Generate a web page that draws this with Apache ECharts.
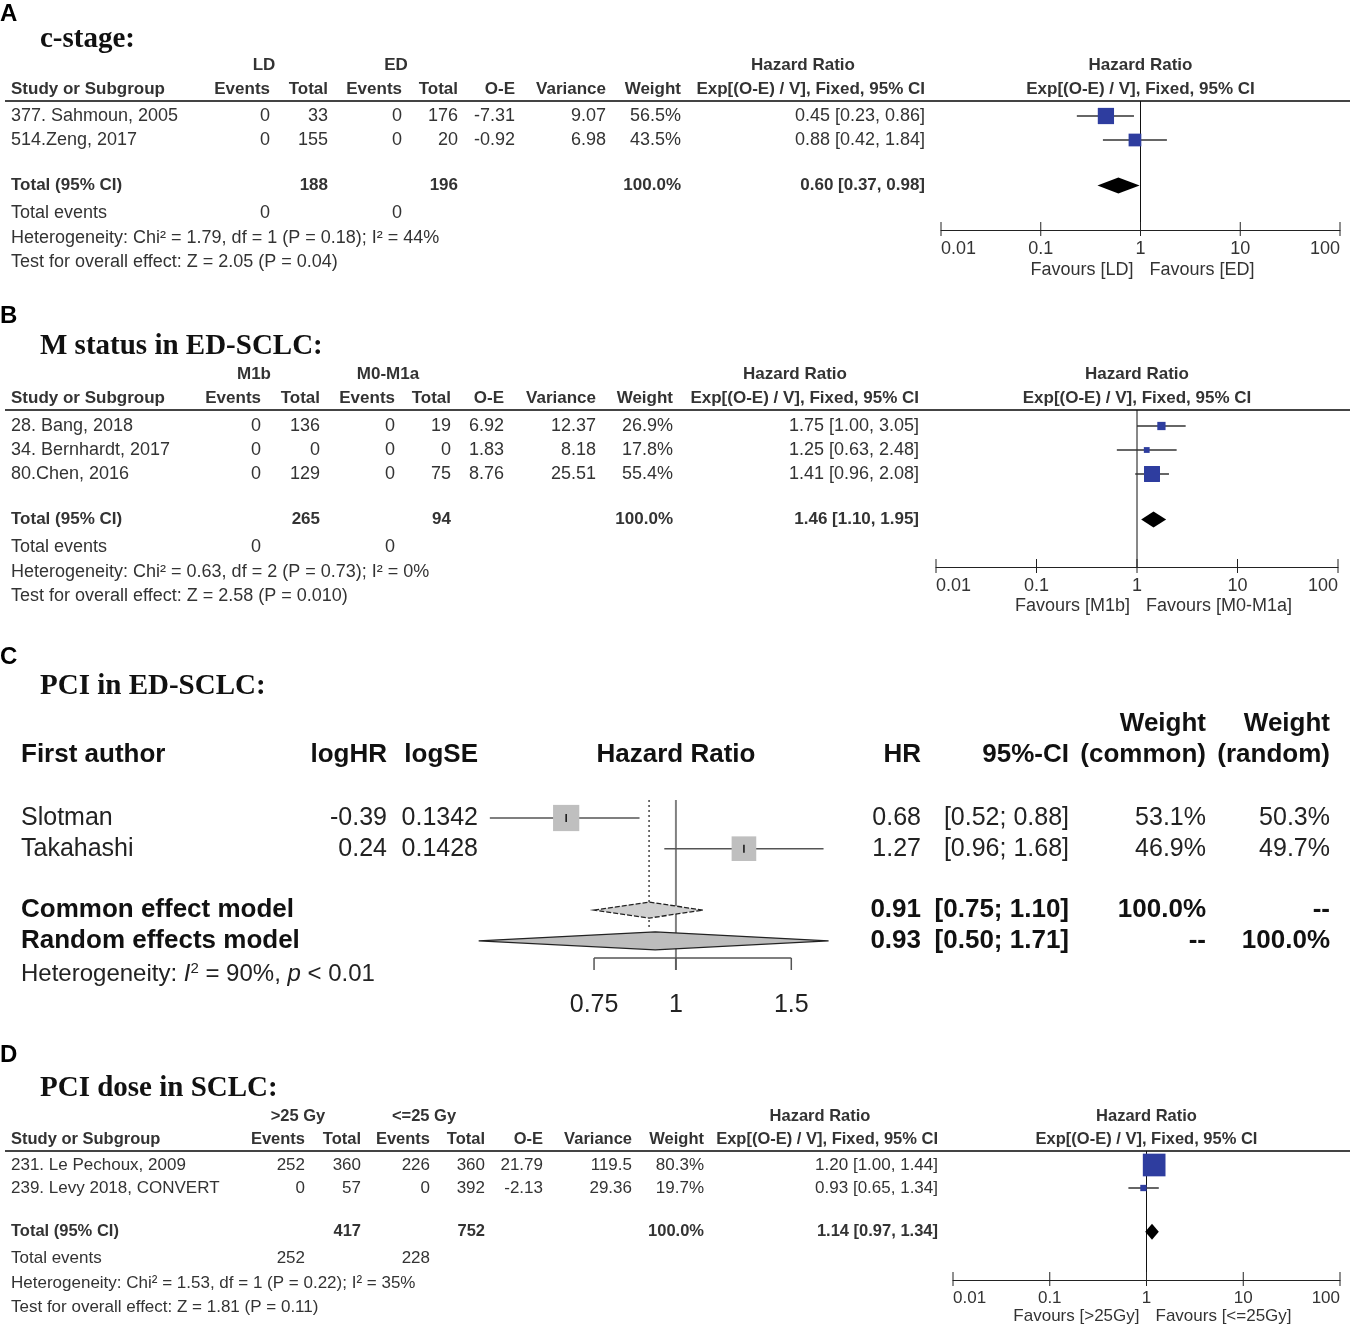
<!DOCTYPE html>
<html>
<head>
<meta charset="utf-8">
<script src="https://cdn.jsdelivr.net/npm/echarts@6/dist/echarts.min.js"></script>
<style>
  html, body { margin: 0; padding: 0; background: #fff; }
  #main { width: 1353px; height: 1331px; }
</style>
</head>
<body>
<div id="main"></div>
<script>
var SANS = "'Liberation Sans', Arial, Helvetica, sans-serif";
var SERIF = "'Liberation Serif', 'Times New Roman', serif";
var TXT = '#333';

// ---- A: c-stage ----
var aGroups = ['LD', 'ED'];
var aStudies = ['377. Sahmoun, 2005', '514.Zeng, 2017'];
var aEvents1 = ['0', '0'];
var aTotal1 = ['33', '155'];
var aEvents2 = ['0', '0'];
var aTotal2 = ['176', '20'];
var aOE = ['-7.31', '-0.92'];
var aVariance = ['9.07', '6.98'];
var aWeight = [56.5, 43.5];
var aHR = [0.45, 0.88];
var aLow = [0.23, 0.42];
var aHigh = [0.86, 1.84];
var aSums = ['188', '196'];
var aPooled = [0.60, 0.37, 0.98];
var aTotalEvents = ['0', '0'];
var aHet = 'Heterogeneity: Chi² = 1.79, df = 1 (P = 0.18); I² = 44%';
var aTest = 'Test for overall effect: Z = 2.05 (P = 0.04)';
var aFavours = ['Favours [LD]', 'Favours [ED]'];

// ---- B: M status ----
var bGroups = ['M1b', 'M0-M1a'];
var bStudies = ['28. Bang, 2018', '34. Bernhardt, 2017', '80.Chen, 2016'];
var bEvents1 = ['0', '0', '0'];
var bTotal1 = ['136', '0', '129'];
var bEvents2 = ['0', '0', '0'];
var bTotal2 = ['19', '0', '75'];
var bOE = ['6.92', '1.83', '8.76'];
var bVariance = ['12.37', '8.18', '25.51'];
var bWeight = [26.9, 17.8, 55.4];
var bHR = [1.75, 1.25, 1.41];
var bLow = [1.00, 0.63, 0.96];
var bHigh = [3.05, 2.48, 2.08];
var bSums = ['265', '94'];
var bPooled = [1.46, 1.10, 1.95];
var bTotalEvents = ['0', '0'];
var bHet = 'Heterogeneity: Chi² = 0.63, df = 2 (P = 0.73); I² = 0%';
var bTest = 'Test for overall effect: Z = 2.58 (P = 0.010)';
var bFavours = ['Favours [M1b]', 'Favours [M0-M1a]'];

// ---- C: PCI in ED-SCLC ----
var cStudies = ['Slotman', 'Takahashi'];
var cLogHR = ['-0.39', '0.24'];
var cLogSE = ['0.1342', '0.1428'];
var cHR = [0.68, 1.27];
var cLow = [0.52, 0.96];
var cHigh = [0.88, 1.68];
var cWCommon = [53.1, 46.9];
var cWRandom = [50.3, 49.7];
var cModels = ['Common effect model', 'Random effects model'];
var cModelHR = [0.91, 0.93];
var cModelLow = [0.75, 0.50];
var cModelHigh = [1.10, 1.71];
var cModelWCommon = ['100.0%', '--'];
var cModelWRandom = ['--', '100.0%'];
var cTicks = [0.75, 1, 1.5];

// ---- D: PCI dose ----
var dGroups = ['>25 Gy', '<=25 Gy'];
var dStudies = ['231. Le Pechoux, 2009', '239. Levy 2018, CONVERT'];
var dEvents1 = ['252', '0'];
var dTotal1 = ['360', '57'];
var dEvents2 = ['226', '0'];
var dTotal2 = ['360', '392'];
var dOE = ['21.79', '-2.13'];
var dVariance = ['119.5', '29.36'];
var dWeight = [80.3, 19.7];
var dHR = [1.20, 0.93];
var dLow = [1.00, 0.65];
var dHigh = [1.44, 1.34];
var dSums = ['417', '752'];
var dPooled = [1.14, 0.97, 1.34];
var dTotalEvents = ['252', '228'];
var dHet = 'Heterogeneity: Chi² = 1.53, df = 1 (P = 0.22); I² = 35%';
var dTest = 'Test for overall effect: Z = 1.81 (P = 0.11)';
var dFavours = ['Favours [>25Gy]', 'Favours [<=25Gy]'];

var logTicks = [0.01, 0.1, 1, 10, 100];

// page layout of the three RevMan panels
var layA = { letter: 'A', letterY: 14, title: 'c-stage:', titleY: 40, head1Y: 65, head2Y: 89, lineY: 101,
  rowTop: 116, rowH: 24, cols: [270, 328, 402, 458, 515, 606, 681, 925], groupX: [264, 396], hrHeadX: 803,
  plotL: 941, plotR: 1340, axisY: 230, favY: 270, fs: 18, fb: 17 };
var layB = { letter: 'B', letterY: 316, title: 'M status in ED-SCLC:', titleY: 347, head1Y: 374, head2Y: 398, lineY: 410,
  rowTop: 426, rowH: 24, cols: [261, 320, 395, 451, 504, 596, 673, 919], groupX: [254, 388], hrHeadX: 795,
  plotL: 936, plotR: 1338, axisY: 567, favY: 606, fs: 18, fb: 17 };
var layD = { letter: 'D', letterY: 1055, title: 'PCI dose in SCLC:', titleY: 1089, head1Y: 1116, head2Y: 1139, lineY: 1151,
  rowTop: 1165, rowH: 23, cols: [305, 361, 430, 485, 543, 632, 704, 938], groupX: [298, 424], hrHeadX: 820,
  plotL: 953, plotR: 1340, axisY: 1280, favY: 1316, fs: 17, fb: 16.5 };

var g = [];
function T(x, y, s, o) {
  o = o || {};
  var a = o.a || 'left';
  g.push({ type: 'text', x: x, y: y, silent: true, style: {
    text: s, font: (o.i ? 'italic ' : '') + (o.b ? 'bold ' : '') + (o.s || 16) + 'px ' + (o.f || SANS),
    fill: o.c || TXT, align: a, textAlign: a, verticalAlign: 'middle', textVerticalAlign: 'middle' } });
}
function ci(h, l, u, sep) {
  return h.toFixed(2) + ' [' + l.toFixed(2) + sep + u.toFixed(2) + ']';
}

var grids = [], xAxes = [], yAxes = [], series = [];

function studyItem(params, api) {
  var row = api.value(3), s = api.value(4), kind = api.value(5);
  var pc = api.coord([api.value(0), row]);
  var pl = api.coord([api.value(1), row]);
  var ph = api.coord([api.value(2), row]);
  if (kind === 1) {
    var h = 8;
    return { type: 'polygon', shape: { points: [[pl[0], pc[1]], [pc[0], pc[1] - h], [ph[0], pc[1]], [pc[0], pc[1] + h]] },
      style: { fill: '#000' } };
  }
  return { type: 'group', children: [
    { type: 'line', shape: { x1: pl[0], y1: pc[1], x2: ph[0], y2: pc[1] }, style: { stroke: '#333', lineWidth: 1.5 } },
    { type: 'rect', shape: { x: pc[0] - s / 2, y: pc[1] - s / 2, width: s, height: s }, style: { fill: '#2e3d9f' } }
  ] };
}
function tickItem(params, api) {
  var cs = params.coordSys;
  var x = api.coord([api.value(0), 0])[0];
  var yb = cs.y + cs.height;
  return { type: 'line', shape: { x1: x, y1: yb - 8, x2: x, y2: yb + 6 }, style: { stroke: '#222', lineWidth: 1 } };
}
function refItem(params, api) {
  var cs = params.coordSys;
  var x = api.coord([api.value(0), 0])[0];
  return { type: 'line', shape: { x1: x, y1: cs.y, x2: x, y2: cs.y + cs.height }, style: { stroke: '#111', lineWidth: 1 } };
}

function addRevman(L, d) {
  var R = { s: L.fs }, B = { s: L.fb, b: true };
  function o(base, a) { return { s: base.s, b: base.b, a: a }; }
  // text table
  T(0, L.letterY, L.letter, { b: true, s: 24, c: '#000' });
  T(40, L.titleY, L.title, { b: true, s: 29, f: SERIF, c: '#111' });
  var c = L.cols, mid = (L.plotL + L.plotR) / 2;
  T(L.groupX[0], L.head1Y, d.groups[0], o(B, 'center'));
  T(L.groupX[1], L.head1Y, d.groups[1], o(B, 'center'));
  T(L.hrHeadX, L.head1Y, 'Hazard Ratio', o(B, 'center'));
  T(mid, L.head1Y, 'Hazard Ratio', o(B, 'center'));
  T(mid, L.head2Y, 'Exp[(O-E) / V], Fixed, 95% CI', o(B, 'center'));
  T(11, L.head2Y, 'Study or Subgroup', B);
  ['Events', 'Total', 'Events', 'Total', 'O-E', 'Variance', 'Weight', 'Exp[(O-E) / V], Fixed, 95% CI'].forEach(function (h, k) {
    T(c[k], L.head2Y, h, o(B, 'right'));
  });
  g.push({ type: 'line', silent: true, shape: { x1: 5, y1: L.lineY, x2: 1350, y2: L.lineY }, style: { stroke: '#444', lineWidth: 2 } });
  var n = d.studies.length;
  d.studies.forEach(function (s, i) {
    var y = L.rowTop + i * L.rowH;
    T(11, y, s, R);
    [d.ev1[i], d.tot1[i], d.ev2[i], d.tot2[i], d.oe[i], d.v[i], d.w[i].toFixed(1) + '%',
      ci(d.hr[i], d.lo[i], d.hi[i], ', ')].forEach(function (v, k) { T(c[k], y, v, o(R, 'right')); });
  });
  var ty = L.rowTop + (n + 0.9) * L.rowH;
  T(11, ty, 'Total (95% CI)', B);
  T(c[1], ty, d.sums[0], o(B, 'right'));
  T(c[3], ty, d.sums[1], o(B, 'right'));
  T(c[6], ty, '100.0%', o(B, 'right'));
  T(c[7], ty, ci(d.pooled[0], d.pooled[1], d.pooled[2], ', '), o(B, 'right'));
  T(11, ty + 27, 'Total events', R);
  T(c[0], ty + 27, d.te[0], o(R, 'right'));
  T(c[2], ty + 27, d.te[1], o(R, 'right'));
  T(11, ty + 52, d.het, R);
  T(11, ty + 76, d.test, R);
  T(mid - 7, L.favY, d.fav[0], o(R, 'right'));
  T(mid + 9, L.favY, d.fav[1], R);

  // plot
  var gi = grids.length;
  grids.push({ left: L.plotL, top: L.lineY, width: L.plotR - L.plotL, height: L.axisY - L.lineY });
  xAxes.push({ gridIndex: gi, type: 'log', logBase: 10, min: 0.01, max: 100,
    axisLine: { show: true, onZero: false, lineStyle: { color: '#222', width: 1 } },
    axisTick: { show: false }, splitLine: { show: false },
    axisLabel: { color: TXT, fontSize: L.fs, fontFamily: SANS, margin: 10, alignMinLabel: 'left', alignMaxLabel: 'right',
      formatter: function (v) { return String(Number(v.toPrecision(2))); } } });
  yAxes.push({ gridIndex: gi, type: 'value', inverse: true, show: false,
    min: (L.lineY - L.rowTop) / L.rowH, max: (L.axisY - L.rowTop) / L.rowH });
  var data = d.hr.map(function (h, i) { return [h, d.lo[i], d.hi[i], i, 0.27 * d.w[i] + 1, 0]; });
  data.push([d.pooled[0], d.pooled[1], d.pooled[2], n + 0.9, 0, 1]);
  series.push({ type: 'custom', xAxisIndex: gi, yAxisIndex: gi, data: [[1]], renderItem: refItem, silent: true });
  series.push({ type: 'custom', xAxisIndex: gi, yAxisIndex: gi, data: logTicks.map(function (t) { return [t]; }), renderItem: tickItem, silent: true });
  series.push({ type: 'custom', xAxisIndex: gi, yAxisIndex: gi, data: data, renderItem: studyItem, silent: true });
}

addRevman(layA, { groups: aGroups, studies: aStudies, ev1: aEvents1, tot1: aTotal1, ev2: aEvents2, tot2: aTotal2,
  oe: aOE, v: aVariance, w: aWeight, hr: aHR, lo: aLow, hi: aHigh, sums: aSums, pooled: aPooled,
  te: aTotalEvents, het: aHet, test: aTest, fav: aFavours });
addRevman(layB, { groups: bGroups, studies: bStudies, ev1: bEvents1, tot1: bTotal1, ev2: bEvents2, tot2: bTotal2,
  oe: bOE, v: bVariance, w: bWeight, hr: bHR, lo: bLow, hi: bHigh, sums: bSums, pooled: bPooled,
  te: bTotalEvents, het: bHet, test: bTest, fav: bFavours });
addRevman(layD, { groups: dGroups, studies: dStudies, ev1: dEvents1, tot1: dTotal1, ev2: dEvents2, tot2: dTotal2,
  oe: dOE, v: dVariance, w: dWeight, hr: dHR, lo: dLow, hi: dHigh, sums: dSums, pooled: dPooled,
  te: dTotalEvents, het: dHet, test: dTest, fav: dFavours });

// ---- panel C (meta-style forest) ----
var cRowTop = 818, cRowH = 30.7;
var cGridTop = 800, cGridBottom = 970;
T(0, 657, 'C', { b: true, s: 24, c: '#000' });
T(40, 687, 'PCI in ED-SCLC:', { b: true, s: 29, f: SERIF, c: '#111' });
var CB = { b: true, s: 26, c: '#111' }, CR = { s: 25, c: '#222' };
function cc(o, a) { var r = {}; for (var k in o) r[k] = o[k]; r.a = a; return r; }
T(21, 755, 'First author', CB);
T(387, 755, 'logHR', cc(CB, 'right'));
T(478, 755, 'logSE', cc(CB, 'right'));
T(676, 755, 'Hazard Ratio', cc(CB, 'center'));
T(921, 755, 'HR', cc(CB, 'right'));
T(1069, 755, '95%-CI', cc(CB, 'right'));
T(1206, 724, 'Weight', cc(CB, 'right'));
T(1206, 755, '(common)', cc(CB, 'right'));
T(1330, 724, 'Weight', cc(CB, 'right'));
T(1330, 755, '(random)', cc(CB, 'right'));
cStudies.forEach(function (s, i) {
  var y = cRowTop + i * cRowH;
  T(21, y, s, CR);
  T(387, y, cLogHR[i], cc(CR, 'right'));
  T(478, y, cLogSE[i], cc(CR, 'right'));
  T(921, y, cHR[i].toFixed(2), cc(CR, 'right'));
  T(1069, y, '[' + cLow[i].toFixed(2) + '; ' + cHigh[i].toFixed(2) + ']', cc(CR, 'right'));
  T(1206, y, cWCommon[i].toFixed(1) + '%', cc(CR, 'right'));
  T(1330, y, cWRandom[i].toFixed(1) + '%', cc(CR, 'right'));
});
cModels.forEach(function (s, i) {
  var y = cRowTop + (3 + i) * cRowH;
  T(21, y, s, CB);
  T(921, y, cModelHR[i].toFixed(2), cc(CB, 'right'));
  T(1069, y, '[' + cModelLow[i].toFixed(2) + '; ' + cModelHigh[i].toFixed(2) + ']', cc(CB, 'right'));
  T(1206, y, cModelWCommon[i], cc(CB, 'right'));
  T(1330, y, cModelWRandom[i], cc(CB, 'right'));
});
g.push({ type: 'text', x: 21, y: cRowTop + 5.1 * cRowH, silent: true, style: {
  text: '{n|Heterogeneity: }{i|I}{s|2}{n| = 90%, }{i|p}{n| < 0.01}',
  verticalAlign: 'middle', textVerticalAlign: 'middle',
  rich: {
    n: { fontSize: 24, fontFamily: SANS, fill: '#222', color: '#222' },
    i: { fontSize: 24, fontFamily: SANS, fontStyle: 'italic', fill: '#222', color: '#222' },
    s: { fontSize: 15, fontFamily: SANS, fill: '#222', color: '#222', padding: [0, 0, 12, 0] }
  } } });

var cgi = grids.length;
grids.push({ left: 470, width: 370, top: cGridTop, height: cGridBottom - cGridTop });
xAxes.push({ gridIndex: cgi, type: 'log', logBase: 10, min: 0.485, max: 1.78, show: false });
yAxes.push({ gridIndex: cgi, type: 'value', inverse: true, show: false,
  min: (cGridTop - cRowTop) / cRowH, max: (cGridBottom - cRowTop) / cRowH });

// reference lines: solid at 1, dotted at common estimate
series.push({ type: 'custom', xAxisIndex: cgi, yAxisIndex: cgi, silent: true, z: 1,
  data: [[1, 0], [cModelHR[0], 1]],
  renderItem: function (params, api) {
    var cs = params.coordSys, x = api.coord([api.value(0), 0])[0];
    if (api.value(1) === 0) {
      return { type: 'line', shape: { x1: x, y1: cs.y, x2: x, y2: cs.y + cs.height }, style: { stroke: '#808080', lineWidth: 2 } };
    }
    return { type: 'line', shape: { x1: x, y1: cs.y, x2: x, y2: cs.y + cs.height - 40 },
      style: { stroke: '#444', lineWidth: 1.5, lineDash: [2, 3] } };
  } });
// studies
series.push({ type: 'custom', xAxisIndex: cgi, yAxisIndex: cgi, silent: true, z: 3,
  data: cHR.map(function (h, i) { return [h, cLow[i], cHigh[i], i, 3.6 * Math.sqrt(cWCommon[i])]; }),
  renderItem: function (params, api) {
    var row = api.value(3), s = api.value(4);
    var pc = api.coord([api.value(0), row]), pl = api.coord([api.value(1), row]), ph = api.coord([api.value(2), row]);
    return { type: 'group', children: [
      { type: 'line', shape: { x1: pl[0], y1: pc[1], x2: ph[0], y2: pc[1] }, style: { stroke: '#555', lineWidth: 1.5 } },
      { type: 'rect', shape: { x: pc[0] - s / 2, y: pc[1] - s / 2, width: s, height: s }, style: { fill: '#bfbfbf' } },
      { type: 'line', shape: { x1: pc[0], y1: pc[1] - 4, x2: pc[0], y2: pc[1] + 4 }, style: { stroke: '#111', lineWidth: 1.5 } }
    ] };
  } });
// pooled diamonds
series.push({ type: 'custom', xAxisIndex: cgi, yAxisIndex: cgi, silent: true, z: 4,
  data: cModelHR.map(function (h, i) { return [h, cModelLow[i], cModelHigh[i], 3 + i, i]; }),
  renderItem: function (params, api) {
    var row = api.value(3), k = api.value(4), h = k === 0 ? 8 : 9;
    var pc = api.coord([api.value(0), row]), pl = api.coord([api.value(1), row]), ph = api.coord([api.value(2), row]);
    return { type: 'polygon', shape: { points: [[pl[0], pc[1]], [pc[0], pc[1] - h], [ph[0], pc[1]], [pc[0], pc[1] + h]] },
      style: { fill: k === 0 ? '#cfcfcf' : '#bdbdbd', stroke: '#222', lineWidth: 1.3, lineDash: k === 0 ? [5, 2] : null } };
  } });
// axis: baseline, ticks and labels
series.push({ type: 'custom', xAxisIndex: cgi, yAxisIndex: cgi, silent: true, z: 2,
  data: [[cTicks[0], cTicks[cTicks.length - 1]]],
  renderItem: function (params, api) {
    var cs = params.coordSys, yb = cs.y + cs.height - 12;
    var x1 = api.coord([api.value(0), 0])[0], x2 = api.coord([api.value(1), 0])[0];
    return { type: 'line', shape: { x1: x1, y1: yb, x2: x2, y2: yb }, style: { stroke: '#555', lineWidth: 1.5 } };
  } });
series.push({ type: 'custom', xAxisIndex: cgi, yAxisIndex: cgi, silent: true, z: 2,
  data: cTicks.map(function (t) { return [t]; }),
  renderItem: function (params, api) {
    var cs = params.coordSys, yb = cs.y + cs.height;
    var x = api.coord([api.value(0), 0])[0];
    return { type: 'group', children: [
      { type: 'line', shape: { x1: x, y1: yb - 12, x2: x, y2: yb }, style: { stroke: '#555', lineWidth: 1.5 } },
      { type: 'text', x: x, y: yb + 35, style: { text: String(api.value(0)), font: '25px ' + SANS, fill: '#222',
        align: 'center', textAlign: 'center', verticalAlign: 'middle', textVerticalAlign: 'middle' } }
    ] };
  } });

var chart = echarts.init(document.getElementById('main'));
chart.setOption({
  backgroundColor: '#fff',
  animation: false,
  grid: grids,
  xAxis: xAxes,
  yAxis: yAxes,
  series: series,
  graphic: { elements: g }
});
</script>
</body>
</html>
